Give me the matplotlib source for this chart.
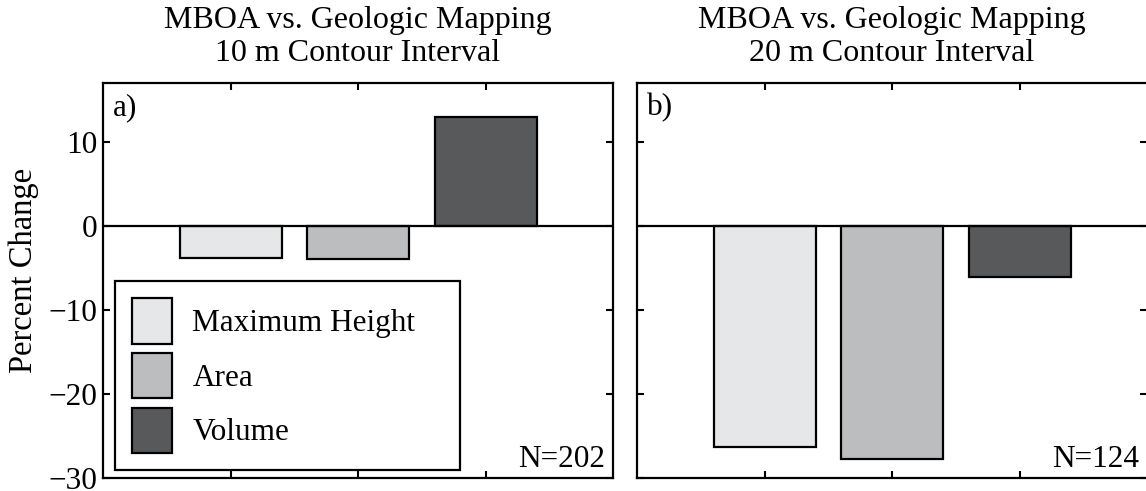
import matplotlib.pyplot as plt
from matplotlib.patches import Patch

# percent change of MBOA estimates relative to geologic mapping
variables = ['Maximum Height', 'Area', 'Volume']
change_10m = [-3.8, -3.9, 12.9]
change_20m = [-26.3, -27.7, -6.1]
n_10m = 202
n_20m = 124
colors = ['#e6e7e8', '#bcbdbf', '#58595b']

plt.rcParams['font.family'] = ['Liberation Serif', 'DejaVu Serif']
plt.rcParams['font.size'] = 22.5

fig = plt.figure(figsize=(11.46, 4.91), dpi=100)
ax1 = fig.add_axes([103/1146, 13/491, 510/1146, 395/491])
ax2 = fig.add_axes([637/1146, 13/491, 510/1146, 395/491])

x = [1, 2, 3]
panels = [(ax1, change_10m, '10', 'a)', n_10m), (ax2, change_20m, '20', 'b)', n_20m)]
for ax, vals, ci, tag, n in panels:
    ax.bar(x, vals, width=0.8, color=colors, edgecolor='black', linewidth=1.6, zorder=2)
    ax.axhline(0, color='black', linewidth=1.6, zorder=3)
    ax.set_xlim(0, 4)
    ax.set_ylim(-30, 17)
    ax.set_xticks(x)
    ax.set_xticklabels([])
    ax.set_yticks([-30, -20, -10, 0, 10])
    ax.tick_params(direction='in', length=5, width=1.5, top=True, right=True, pad=4)
    for s in ax.spines.values():
        s.set_linewidth(1.6)
    ax.set_title('MBOA vs. Geologic Mapping\n%s m Contour Interval' % ci,
                 fontsize=23, linespacing=1.17, pad=16)
    ax.text(0.02, 0.975, tag, transform=ax.transAxes, ha='left', va='top')
    ax.text(0.985, 0.01, 'N=%d' % n, transform=ax.transAxes, ha='right', va='bottom')

ax1.set_ylabel('Percent Change', fontsize=23.5)
ax1.yaxis.set_label_coords(-0.125, 0.525)
ax2.set_yticklabels([])

# legend box stretched to the width used in the figure
handles = [Patch(facecolor=c, edgecolor='black', linewidth=1.6) for c in colors]
leg = ax1.legend(handles, variables, loc='lower left', mode='expand',
                 bbox_to_anchor=(0.0235, 0.02, 0.676, 0.47),
                 handlelength=1.28, handleheight=1.85, handletextpad=0.65,
                 labelspacing=0.3, borderpad=0.55, fancybox=False, framealpha=1,
                 borderaxespad=0)
leg.get_frame().set_edgecolor('black')
leg.get_frame().set_linewidth(1.6)

fig.savefig('out.png', dpi=100)
